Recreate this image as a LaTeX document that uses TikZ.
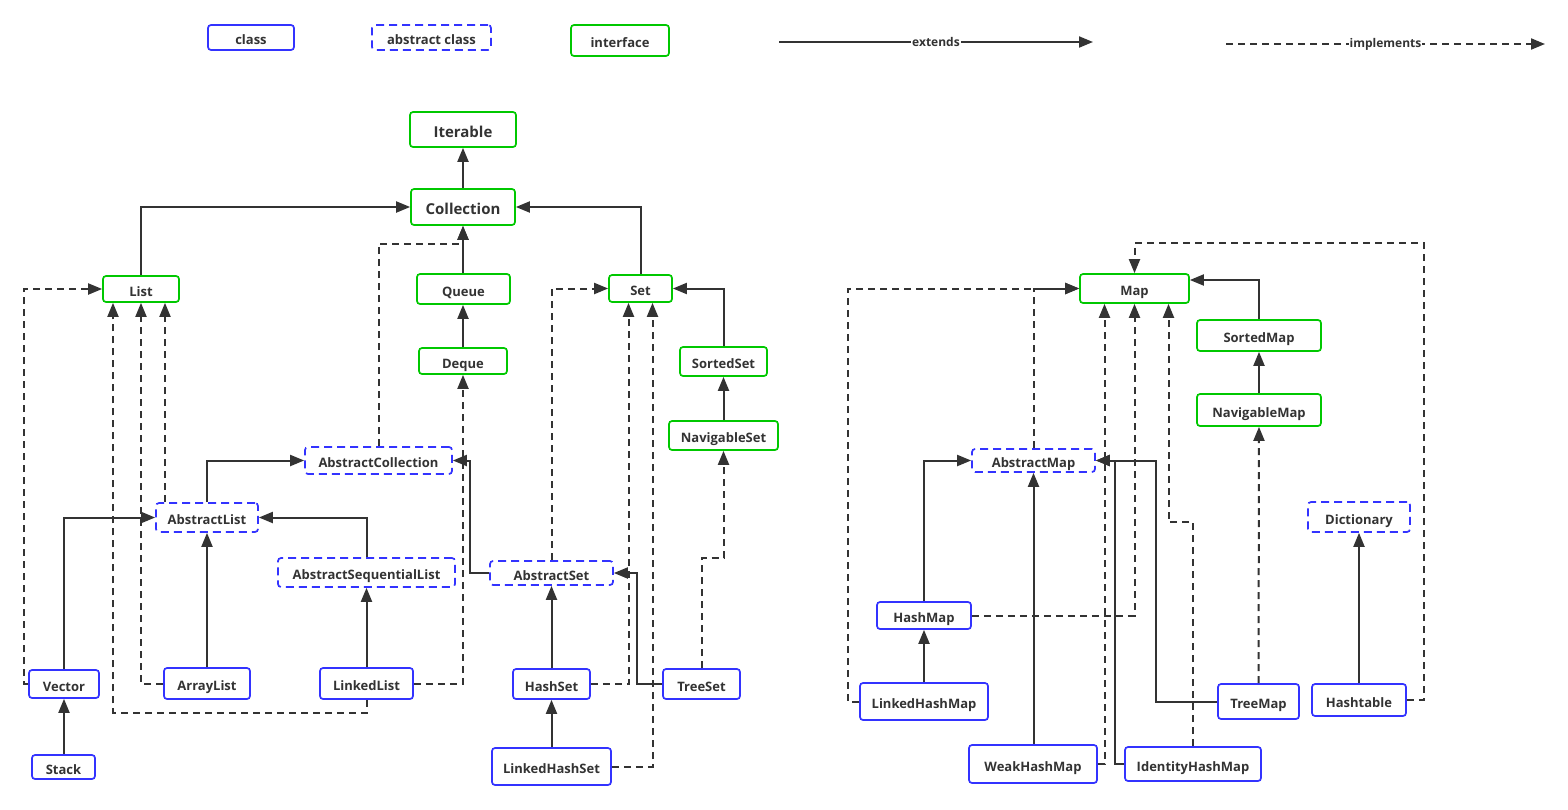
\documentclass[tikz,border=0pt]{standalone}
\usepackage{fontspec}
\setmainfont{Open Sans}
\usepackage{tikz}
\usetikzlibrary{arrows.meta}

\definecolor{clsblue}{RGB}{51,51,255}
\definecolor{ifgreen}{RGB}{0,200,0}
\definecolor{linegray}{RGB}{51,51,51}

\begin{document}
\begin{tikzpicture}[
        x=1pt, y=-1pt,
        box/.style={rounded corners=3pt, line width=1.7pt, fill=white, inner sep=0pt,
            text height=16pt, text depth=2pt,
            text=linegray, font=\fontsize{13}{15}\selectfont\bfseries},
        big/.style={text height=18pt, text depth=2.3pt, font=\fontsize{15}{17}\selectfont\bfseries},
        cls/.style={box, draw=clsblue},
        abscls/.style={box, draw=clsblue, dash pattern=on 8pt off 5pt},
        iface/.style={box, draw=ifgreen},
        sz/.style 2 args={minimum width=#1pt, minimum height=#2pt},
        ext/.style={draw=linegray, line width=2pt, -{Triangle[length=14pt, width=11pt]}},
        impl/.style={ext, dash pattern=on 7pt off 5pt},
        leglabel/.style={fill=white, inner sep=1pt, text=linegray, font=\fontsize{12}{14}\selectfont\bfseries}
    ]
        \useasboundingbox (0,0) rectangle (1568,809);

        % Legend
        \node[cls, sz={86}{25}] (legcls) at (251,37.5) {class};
        \node[abscls, sz={119}{25}] (legabs) at (431.5,37.5) {abstract class};
        \node[iface, sz={98}{31}] (legif) at (620,40.5) {interface};
        \coordinate (extA) at (779,42);
        \coordinate (extB) at (1093,42);
        \coordinate (implA) at (1226,44);
        \coordinate (implB) at (1545,44);
        \draw[ext] (extA) -- node[leglabel] {extends} (extB);
        \draw[impl] (implA) -- node[leglabel] {implements} (implB);

        % Collection side
        \node[iface, big, sz={106}{35}] (Iterable) at (463,129.5) {Iterable};
        \node[iface, big, sz={104}{36}] (Collection) at (463,207) {Collection};
        \node[iface, sz={76}{26}] (List) at (141,289) {List};
        \node[iface, sz={93}{30}] (Queue) at (463.5,289) {Queue};
        \node[iface, sz={88}{26}] (Deque) at (463,361) {Deque};
        \node[iface, sz={63}{27}] (Set) at (640.5,288.5) {Set};
        \node[iface, sz={87}{29}] (SortedSet) at (723.5,361.5) {SortedSet};
        \node[iface, sz={109}{29}] (NavigableSet) at (723.5,435.5) {NavigableSet};

        \node[abscls, sz={147}{27}] (AbstractCollection) at (378.5,460.5) {AbstractCollection};
        \node[abscls, sz={102}{29}] (AbstractList) at (207,517.5) {AbstractList};
        \node[abscls, sz={177}{29}] (AbstractSequentialList) at (366.5,572.5) {AbstractSequentialList};
        \node[abscls, sz={123}{24}] (AbstractSet) at (551.5,573) {AbstractSet};

        \node[cls, sz={70}{28}] (Vector) at (64,684) {Vector};
        \node[cls, sz={63}{24}] (Stack) at (63.5,767) {Stack};
        \node[cls, sz={86}{31}] (ArrayList) at (207,683.5) {ArrayList};
        \node[cls, sz={93}{31}] (LinkedList) at (366.5,683.5) {LinkedList};
        \node[cls, sz={77}{30}] (HashSet) at (551.5,684) {HashSet};
        \node[cls, sz={77}{30}] (TreeSet) at (701.5,684) {TreeSet};
        \node[cls, sz={119}{37}] (LinkedHashSet) at (551.5,766.5) {LinkedHashSet};

        % Map side
        \node[iface, sz={109}{29}] (Map) at (1134.5,288.5) {Map};
        \node[iface, sz={124}{31}] (SortedMap) at (1259,335.5) {SortedMap};
        \node[iface, sz={124}{32}] (NavigableMap) at (1259,410) {NavigableMap};
        \node[abscls, sz={123}{23}] (AbstractMap) at (1033.5,460.5) {AbstractMap};
        \node[abscls, sz={102}{30}] (Dictionary) at (1359,517) {Dictionary};
        \node[cls, sz={94}{27}] (HashMap) at (924,615.5) {HashMap};
        \node[cls, sz={128}{37}] (LinkedHashMap) at (924,701.5) {LinkedHashMap};
        \node[cls, sz={81}{35}] (TreeMap) at (1258.5,701.5) {TreeMap};
        \node[cls, sz={94}{32}] (Hashtable) at (1359,700) {Hashtable};
        \node[cls, sz={128}{38}] (WeakHashMap) at (1033,764) {WeakHashMap};
        \node[cls, sz={136}{34}] (IdentityHashMap) at (1193,764) {IdentityHashMap};

        % extends
        \draw[ext] (Collection.north) -- (Iterable.south);
        \draw[ext] (List.north) |- (Collection.west);
        \draw[ext] (Set.north) |- (Collection.east);
        \draw[ext] (Queue.north -| Collection.south) -- (Collection.south);
        \draw[ext] (Deque.north) -- (Deque.north |- Queue.south);
        \draw[ext] (SortedSet.north) |- (Set.east);
        \draw[ext] (NavigableSet.north) -- (NavigableSet.north |- SortedSet.south);
        \draw[ext] (AbstractList.north) |- (AbstractCollection.west);
        \draw[ext] (Vector.north) |- (AbstractList.west);
        \draw[ext] (Stack.north -| Vector.south) -- (Vector.south);
        \draw[ext] (ArrayList.north) -- (AbstractList.south);
        \draw[ext] (AbstractSequentialList.north) |- (AbstractList.east);
        \draw[ext] (LinkedList.north -| AbstractSequentialList.south) -- (AbstractSequentialList.south);
        \draw[ext] (AbstractSet.west) -- ++(-19,0) |- (AbstractCollection.east);
        \draw[ext] (HashSet.north) -- (AbstractSet.south);
        \draw[ext] (LinkedHashSet.north) -- (HashSet.south);
        \draw[ext] (TreeSet.west) -- ++(-25,0) |- (AbstractSet.east);

        \draw[ext] (SortedMap.north) |- ([yshift=8.5pt]Map.east);
        \draw[ext] (NavigableMap.north) -- (SortedMap.south);
        \draw[ext] (HashMap.north) |- (AbstractMap.west);
        \draw[ext] (LinkedHashMap.north) -- (HashMap.south);
        \draw[ext] (WeakHashMap.north -| AbstractMap.south) -- (AbstractMap.south);
        \draw[ext] (TreeMap.west) -- ++(-61,0) |- (AbstractMap.east);
        \draw[ext] (IdentityHashMap.west) -- ++(-9,0) |- (AbstractMap.east);
        \draw[ext] (Hashtable.north) -- (Dictionary.south);

        % implements
        \draw[impl] (Vector.west) -- ++(-4,0) |- (List.west);
        \draw[impl] (ArrayList.west) -| (List.south);
        \draw[impl] (LinkedList.south) -- ++(0,13) -| ([xshift=-28pt]List.south);
        \draw[impl] ([xshift=-42pt]AbstractList.north) -- ([xshift=24pt]List.south);
        \draw[impl] (AbstractCollection.north) |- ([yshift=-18pt]Collection.south) -- (Collection.south);
        \draw[impl] (LinkedList.east) -| (Deque.south);
        \draw[impl] (HashSet.east) -| ([xshift=-12pt]Set.south);
        \draw[impl] (LinkedHashSet.east) -| ([xshift=12pt]Set.south);
        \draw[impl] (AbstractSet.north) |- (Set.west);
        \draw[impl] (TreeSet.north) -- ++(0,-110) -| (NavigableSet.south);

        \draw[impl] (LinkedHashMap.west) -- ++(-11,0) |- (Map.west);
        \draw[impl] (AbstractMap.north) |- (Map.west);
        \draw[impl] (WeakHashMap.east) -| ([xshift=-30pt]Map.south);
        \draw[impl] (HashMap.east) -| (Map.south);
        \draw[impl] (IdentityHashMap.north) -- ++(0,-224) -| ([xshift=34pt]Map.south);
        \draw[impl] (TreeMap.north) -- (NavigableMap.south);
        \draw[impl] (Hashtable.east) -- ++(17,0) |- ([yshift=30pt]Map.north) -- (Map.north);

    \end{tikzpicture}
\end{document}
